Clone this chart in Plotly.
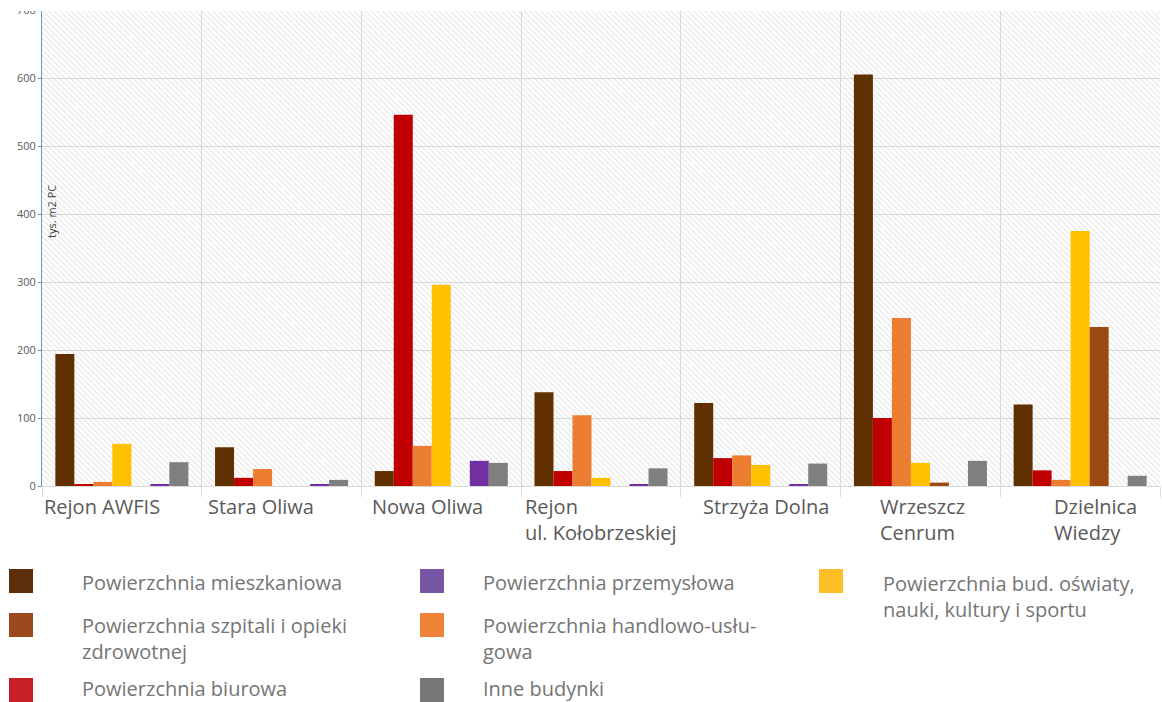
import plotly.graph_objects as go

# ---- data -------------------------------------------------------------
districts = ["Rejon AWFIS", "Stara Oliwa", "Nowa Oliwa", "Rejon Kołobrzeskiej",
             "Strzyża Dolna", "Wrzeszcz Cenrum", "Dzielnica Wiedzy"]
district_labels = ["Rejon AWFIS", "Stara Oliwa", "Nowa Oliwa",
                   "Rejon<br>ul. Kołobrzeskiej", "Strzyża Dolna",
                   "Wrzeszcz<br>Cenrum", "Dzielnica<br>Wiedzy"]

mieszkaniowa = [194, 57, 22, 138, 122, 605, 120]
biurowa = [1.5, 12, 546, 22, 41, 100, 23]
handlowo_uslugowa = [6, 25, 59, 104, 45, 247, 9]
oswiaty = [62, 0, 296, 12, 31, 34, 375]
szpitali = [0, 0, 0, 0, 0, 5, 234]
przemyslowa = [2, 2, 37, 2, 2, 0, 0]
inne = [35, 9, 34, 26, 33, 37, 15]

y_ticks = [0, 100, 200, 300, 400, 500, 600, 700]
y_title = "tys. m2 PC"

# bars in drawing order: (values, bar colour, legend swatch colour, legend text)
series = [
    (mieszkaniowa, "#603000", "#5C2E0A", "Powierzchnia mieszkaniowa"),
    (biurowa, "#C00000", "#C62026", "Powierzchnia biurowa"),
    (handlowo_uslugowa, "#ED7D31", "#F0823A", "Powierzchnia handlowo-usłu-<br>gowa"),
    (oswiaty, "#FFC000", "#FDBE28", "Powierzchnia bud. oświaty,<br>nauki, kultury i sportu"),
    (szpitali, "#9C4A10", "#9A4A1E", "Powierzchnia szpitali i opieki<br>zdrowotnej"),
    (przemyslowa, "#7030A0", "#7856A6", "Powierzchnia przemysłowa"),
    (inne, "#7F7F7F", "#747678", "Inne budynki"),
]

# ---- layout geometry (pixels) ----------------------------------------
W, H = 1162, 702
L, R, T, B = 42, 1160, 10, 486


def px(x):
    return (x - L) / (R - L)


def py(y):
    return (B - y) / (B - T)


FONT = "Open Sans"
n = len(districts)
boundaries = [i - 0.5 for i in range(n + 1)]

fig = go.Figure()

# hatched plotting background (main subplot, under the bars)
fig.add_trace(go.Bar(
    x=[(n - 1) / 2], y=[max(y_ticks)], width=[n], xaxis="x", yaxis="y",
    marker=dict(color="rgba(0,0,0,0)", line=dict(width=0),
                pattern=dict(shape="\\", size=4, solidity=0.3,
                             fgcolor="#cfcfcf", fillmode="overlay")),
    hoverinfo="skip", showlegend=False,
))

for values, color, _, name in series:
    fig.add_trace(go.Bar(
        x=districts, y=values, name=name.replace("<br>", " "),
        xaxis="x2", yaxis="y",
        marker=dict(color=color, line=dict(width=0)),
        showlegend=False,
    ))

fig.update_layout(
    width=W, height=H,
    margin=dict(l=L, r=W - R, t=T, b=H - B, pad=0),
    paper_bgcolor="white", plot_bgcolor="white",
    barmode="group", bargap=0.167, bargroupgap=0,
    font=dict(family=FONT, color="#595959"),
    xaxis=dict(
        range=[-0.5, n - 0.5], tickvals=boundaries, showticklabels=False,
        showgrid=True, gridcolor="#d9d9d9", gridwidth=1, zeroline=False,
        ticks="outside", ticklen=10, tickcolor="#d9d9d9",
        showline=True, linecolor="#d9d9d9", linewidth=1, fixedrange=True,
    ),
    xaxis2=dict(
        type="category", overlaying="x", anchor="y", visible=False,
        range=[-0.5, n - 0.5],
    ),
    yaxis=dict(
        range=[0, max(y_ticks)], tickvals=y_ticks, showgrid=True,
        gridcolor="#d9d9d9", gridwidth=1, zeroline=False, showline=True,
        linecolor="#5B9BD5", linewidth=1, ticks="outside", ticklen=3,
        tickcolor="#5B9BD5", tickfont=dict(size=11, color="#595959"),
    ),
)

# category labels under each group
label_shift = [-20, -21, -14, 0, 5, 2, 15]
for d, lab, sh in zip(districts, district_labels, label_shift):
    fig.add_annotation(
        x=d, y=0, xref="x2", yref="y", text=lab, showarrow=False,
        xanchor="center", yanchor="top", align="left", yshift=-5, xshift=sh,
        font=dict(size=20, color="#595959", family=FONT),
    )

# axis title inside the plot area
fig.add_annotation(
    x=px(51), y=py(212), xref="paper", yref="paper", text=y_title,
    showarrow=False, textangle=-90, xanchor="center", yanchor="middle",
    font=dict(size=11, color="#404040", family=FONT),
)

# legend laid out in three columns
legend_order = [0, 4, 1, 5, 2, 6, 3]
cols = [(9, 81), (420, 482), (819, 882)]
rows = [(569, 582), (613, 638), (678, 688)]
col3_row = (569, 596)
slots = [(cols[0], rows[0]), (cols[0], rows[1]), (cols[0], rows[2]),
         (cols[1], rows[0]), (cols[1], rows[1]), (cols[1], rows[2]),
         (cols[2], col3_row)]
for idx, ((sx, tx), (sy, ty)) in zip(legend_order, slots):
    _, _, swatch, text = series[idx]
    fig.add_shape(type="rect", xref="paper", yref="paper",
                  x0=px(sx), x1=px(sx + 24), y0=py(sy), y1=py(sy + 24),
                  fillcolor=swatch, line=dict(width=0), layer="above")
    fig.add_annotation(
        x=px(tx), y=py(ty), xref="paper", yref="paper", text=text,
        showarrow=False, xanchor="left", yanchor="middle", align="left",
        borderpad=0, font=dict(size=20, color="#757575", family=FONT),
    )

# the chart is clipped along its top edge
fig.add_shape(type="rect", xref="paper", yref="paper",
              x0=px(0), x1=px(W), y0=py(11), y1=py(-5),
              fillcolor="white", line=dict(width=0), layer="above")

fig.write_html("out.html")
